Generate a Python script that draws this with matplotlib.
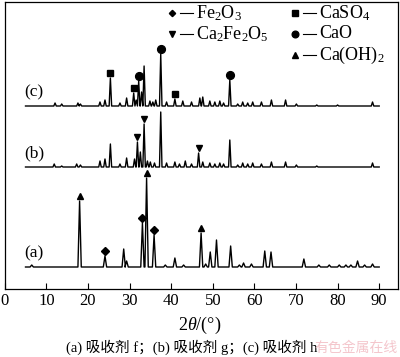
import matplotlib
matplotlib.use('Agg')
import matplotlib.pyplot as plt

plt.rcParams['font.family'] = ['Liberation Serif', 'Noto Sans CJK SC']
plt.rcParams['mathtext.fontset'] = 'custom'
plt.rcParams['mathtext.rm'] = 'Liberation Serif'
plt.rcParams['mathtext.it'] = 'Liberation Serif:italic'

# scan range (2theta, degrees)
scan_start, scan_end = 5, 90

phase_names = ['Fe$_2$O$_3$', 'Ca$_2$Fe$_2$O$_5$', 'CaSO$_4$', 'CaO', 'Ca(OH)$_2$']
phase_symbols = ['D', 'v', 's', 'o', '^']

sample_labels = ['(a)', '(b)', '(c)']
sample_offsets = [22, 122, 183]

# peaks: (2theta, intensity above baseline)
peaks_a = [(6.5, 2), (18.0, 66), (24.1, 11), (28.6, 18), (29.3, 6), (33.1, 44), (34.1, 89),
           (35.9, 32), (38.6, 2), (40.9, 9), (43.0, 2), (47.2, 34), (48.3, 3), (49.4, 15),
           (50.9, 27), (54.3, 21), (56.4, 2), (57.4, 4), (59.3, 3), (62.5, 16), (64.0, 15),
           (71.9, 8), (75.5, 2), (78.0, 2), (80.4, 2), (82.0, 2), (83.2, 2), (84.8, 6),
           (86.5, 2), (88.4, 3)]
peaks_b = [(11.9, 3), (13.7, 1), (17.3, 3), (18.2, 2), (22.9, 6), (24.1, 8), (25.4, 23),
           (27.7, 3), (29.3, 9), (31.2, 8), (31.9, 25), (32.6, 15), (33.5, 43), (34.3, 6),
           (35.0, 5), (36.0, 4), (37.5, 55), (38.9, 4), (40.9, 5), (42.0, 3), (43.4, 6),
           (44.9, 3), (46.6, 14), (47.6, 5), (49.3, 4), (50.5, 3), (51.7, 4), (52.6, 3),
           (54.1, 27), (56.0, 2), (57.2, 4), (58.4, 3), (59.6, 4), (61.7, 3), (64.1, 5),
           (67.5, 5), (70.1, 2), (75.0, 1), (88.4, 4)]
peaks_c = [(12.1, 3), (13.7, 2), (17.6, 3), (18.2, 2), (22.9, 4), (24.1, 6), (25.4, 28),
           (27.7, 3), (29.3, 8), (31.0, 13), (31.6, 6), (32.2, 25), (32.9, 14), (33.5, 40),
           (34.9, 5), (35.6, 4), (36.3, 6), (37.5, 52), (38.9, 4), (40.9, 7), (42.8, 5),
           (44.9, 4), (46.9, 8), (47.6, 9), (49.3, 5), (50.5, 4), (51.7, 5), (52.6, 3),
           (54.1, 26), (56.0, 2), (57.2, 4), (58.4, 3), (59.6, 4), (61.7, 4), (64.1, 6),
           (67.5, 6), (70.1, 2), (75.0, 1), (80.0, 1), (88.4, 4)]

# phase identification marks: (2theta, phase index)
marks_a = [(18.0, 4), (34.1, 4), (47.2, 4), (24.1, 0), (33.1, 0), (35.9, 0)]
marks_b = [(31.9, 1), (33.5, 1), (46.6, 1)]
marks_c = [(25.4, 2), (31.0, 2), (40.9, 2), (32.2, 3), (37.5, 3), (54.1, 3)]


def trace(peaks, base, w=0.3):
    xs, ys = [scan_start], [base]
    for pos, h in sorted(peaks):
        xs += [pos - w, pos, pos + w]
        ys += [base, base + h, base]
    xs.append(scan_end)
    ys.append(base)
    return xs, ys


fig = plt.figure(figsize=(4.0, 3.57), dpi=100)
ax = fig.add_axes([4.7 / 400, 68 / 357, 392.8 / 400, 287 / 357])

sym_size = {'D': 4, 'v': 5, '^': 5, 's': 4.8, 'o': 5.6}
widths = [0.4, 0.3, 0.3]
for label, base, peaks, marks, w in zip(sample_labels, sample_offsets,
                                        [peaks_a, peaks_b, peaks_c],
                                        [marks_a, marks_b, marks_c], widths):
    xs, ys = trace(peaks, base, w)
    ax.plot(xs, ys, color='black', lw=1.0)
    lookup = dict(peaks)
    for pos, ph in marks:
        sym = phase_symbols[ph]
        ax.plot(pos, base + lookup[pos] + 5, marker=sym, color='black',
                ms=sym_size[sym], ls='none')
    ax.text(4.8, base + 14, label, fontsize=12.5, ha='left', va='center')

# legend drawn by hand, two columns
legend_slots = [(40.2, 276), (40.2, 255), (69.8, 276), (69.8, 255), (69.8, 234)]
for (lx, ly), name, sym in zip(legend_slots, phase_names, phase_symbols):
    ax.plot(lx, ly, marker=sym, color='black', ms=sym_size[sym] - 0.8, ls='none')
    ax.plot([lx + 2.0, lx + 5.0], [ly, ly], color='black', lw=0.8)
    ax.text(lx + 5.8, ly, name, fontsize=13, ha='left', va='center')

ax.set_xlim(0, 94.4)
ax.set_ylim(0, 287)
ax.set_xticks(range(0, 100, 10))
ax.set_yticks([])
ax.tick_params(axis='x', direction='in', length=4, labelsize=12, pad=3)
for s in ax.spines.values():
    s.set_linewidth(0.9)

fig.text(0.5, 1 - 325 / 357, r'$\mathit{2}\theta$/(°)', fontsize=13, ha='center', va='center')
fig.text(0.48, 1 - 347 / 357, '(a) 吸收剂 f；(b) 吸收剂 g；(c) 吸收剂 h', fontsize=10.5,
         ha='center', va='center')
fig.text(0.89, 1 - 348 / 357, '有色金属在线', fontsize=10, color='#f4c6cc',
         ha='center', va='center')

fig.savefig('out.png', dpi=100)
